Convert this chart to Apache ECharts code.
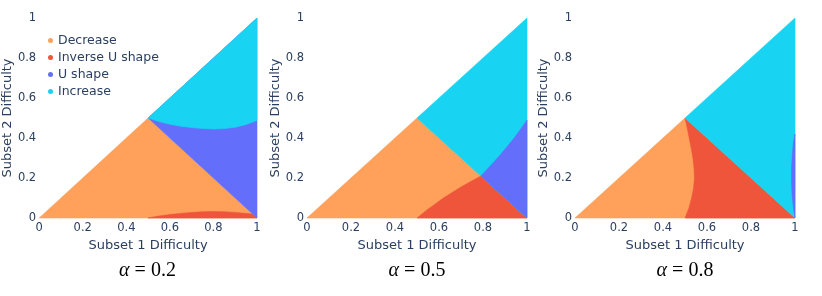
<!DOCTYPE html>
<html><head><meta charset="utf-8">
<script src="https://cdn.jsdelivr.net/npm/echarts@6/dist/echarts.min.js"></script>
<style>html,body{margin:0;padding:0;background:#fff}#c{width:822px;height:296px}</style>
</head><body><div id="c"></div>
<script>
// ---- data ----
const tickLabels = ['0', '0.2', '0.4', '0.6', '0.8', '1'];
const alphas = ['0.2', '0.5', '0.8'];
const categories = ['Decrease', 'Inverse U shape', 'U shape', 'Increase'];
const colors = ['#FFA15A', '#EF553B', '#636EFA', '#19D3F3'];

// region outlines as [subset1, subset2] difficulty points
const lowerTriangle = [[0, 0], [0.5, 0.5], [1, 0]];
const upperTriangle = [[0.5, 0.5], [1, 1], [1, 0]];

// alpha = 0.2
const a02Red = [[0.5, 0], [0.55, 0.01], [0.6, 0.017], [0.65, 0.023], [0.7, 0.028], [0.75, 0.031],
  [0.8, 0.032], [0.85, 0.031], [0.9, 0.028], [0.95, 0.023], [0.98, 0.02], [1, 0]];
const a02Cyan = [[0.5, 0.5], [0.55, 0.482], [0.6, 0.469], [0.65, 0.459], [0.7, 0.452], [0.75, 0.447],
  [0.8, 0.445], [0.85, 0.447], [0.9, 0.454], [0.95, 0.467], [1, 0.488], [1, 1]];
// alpha = 0.5
const a05Red = [[0.5, 0], [0.52, 0.018], [0.545, 0.04], [0.58, 0.068], [0.62, 0.1], [0.66, 0.128],
  [0.7, 0.155], [0.745, 0.183], [0.79, 0.21], [1, 0]];
const a05Blue = [[0.79, 0.21], [0.82, 0.245], [0.85, 0.281], [0.88, 0.318], [0.91, 0.357],
  [0.94, 0.398], [0.97, 0.442], [1, 0.49], [1, 0]];
// alpha = 0.8
const a08Red = [[0.5, 0.5], [0.51, 0.45], [0.519, 0.4], [0.528, 0.35], [0.536, 0.3], [0.541, 0.25],
  [0.543, 0.2], [0.539, 0.15], [0.53, 0.1], [0.518, 0.05], [0.5, 0], [1, 0]];
const a08Blue = [[1, 0.42], [0.993, 0.38], [0.988, 0.32], [0.984, 0.25], [0.984, 0.18],
  [0.987, 0.11], [0.993, 0.05], [1, 0]];

// layers per panel: [outline, category index]
const panels = [
  [[lowerTriangle, 0], [a02Red, 1], [upperTriangle, 2], [a02Cyan, 3]],
  [[lowerTriangle, 0], [a05Red, 1], [upperTriangle, 3], [a05Blue, 2]],
  [[lowerTriangle, 0], [a08Red, 1], [upperTriangle, 3], [a08Blue, 2]]
];

// ---- layout ----
const gridLefts = [38, 307, 575];
const gridWidths = [219, 220, 220];
const txt = '#2a3f5f';
const font = 'DejaVu Sans';

const grids = [], xAxes = [], yAxes = [], series = [];
gridLefts.forEach((l, i) => {
  grids.push({left: l, top: 18, width: gridWidths[i], height: 200});
  const common = {
    type: 'value', gridIndex: i, min: 0, max: 1, interval: 0.2,
    axisLine: {show: false}, axisTick: {show: false}, splitLine: {show: false},
    nameLocation: 'middle',
    nameTextStyle: {color: txt, fontSize: 13, fontFamily: font},
    axisLabel: {color: txt, fontSize: 11.5, fontFamily: font,
      formatter: v => tickLabels[Math.round(v / 0.2)]}
  };
  xAxes.push(Object.assign({}, common, {name: 'Subset 1 Difficulty', nameGap: 20,
    axisLabel: Object.assign({}, common.axisLabel, {margin: 4})}));
  yAxes.push(Object.assign({}, common, {name: 'Subset 2 Difficulty', nameGap: 22,
    axisLabel: Object.assign({}, common.axisLabel, {margin: 3})}));
  panels[i].forEach(([pts, ci]) => {
    const col = colors[ci];
    series.push({
      type: 'custom', name: categories[ci], xAxisIndex: i, yAxisIndex: i,
      itemStyle: {color: col}, silent: true,
      data: [pts[0]],
      renderItem: (params, api) => ({
        type: 'polygon',
        shape: {points: pts.map(p => api.coord(p))},
        style: {fill: col, stroke: col, lineWidth: 0.6}
      })
    });
  });
});

const graphic = alphas.map((a, i) => ({
  type: 'text', x: gridLefts[i] + gridWidths[i] / 2, y: 271,
  style: {
    text: '{a|α} = ' + a,
    rich: {a: {fontStyle: 'italic', fontSize: 20, fontFamily: 'Liberation Serif', fill: '#000'}},
    fontSize: 20, fontFamily: 'Liberation Serif', fill: '#000',
    textAlign: 'center', align: 'center', textVerticalAlign: 'middle', verticalAlign: 'middle'
  }
}));

const chart = echarts.init(document.getElementById('c'), null, {renderer: 'canvas'});
chart.setOption({
  animation: false,
  backgroundColor: '#fff',
  grid: grids, xAxis: xAxes, yAxis: yAxes, series: series,
  legend: {
    data: categories, orient: 'vertical', left: 43, top: 29,
    icon: 'circle', itemWidth: 5, itemHeight: 5, itemGap: 4,
    textStyle: {color: txt, fontSize: 12.5, fontFamily: font},
    selectedMode: false
  },
  graphic: graphic
});
</script></body></html>
